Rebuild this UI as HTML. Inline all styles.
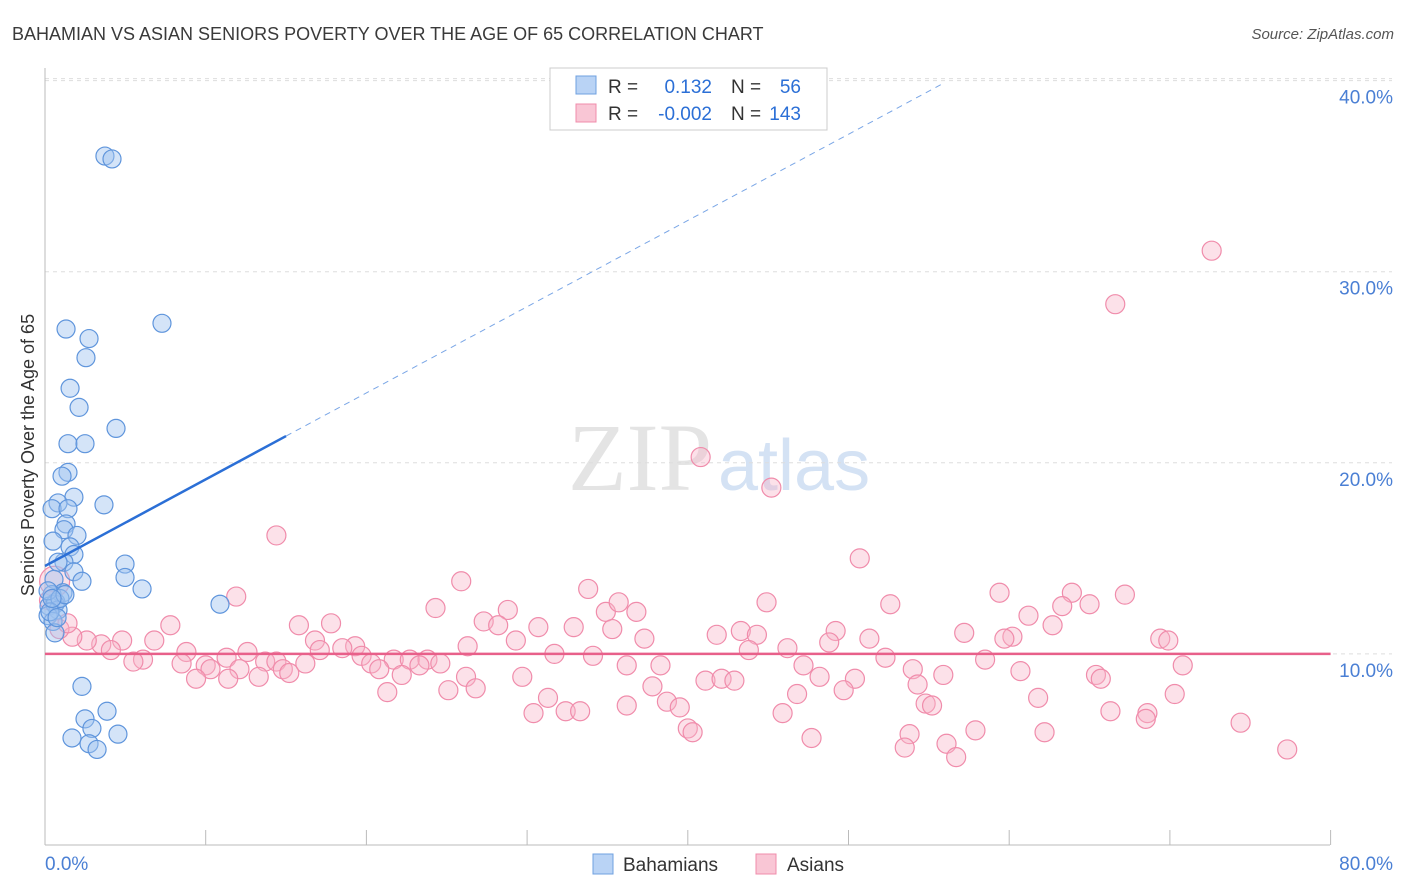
<!DOCTYPE html>
<html><head><meta charset="utf-8"><style>
body{margin:0;background:#fff;font-family:"Liberation Sans",sans-serif;}
svg{display:block}
</style></head><body>
<svg width="1406" height="892" id="chart">
<text x="12" y="40" font-size="18" fill="#3a3a3a">BAHAMIAN VS ASIAN SENIORS POVERTY OVER THE AGE OF 65 CORRELATION CHART</text>
<text x="1394" y="39" font-size="15" fill="#555" font-style="italic" text-anchor="end">Source: ZipAtlas.com</text>
<text x="712" y="490" font-size="96" fill="#e4e4e4" text-anchor="end" font-family="Liberation Serif">ZIP</text>
<text x="718" y="490" font-size="72" fill="#d4e2f4">atlas</text>
<text transform="translate(34,455) rotate(-90)" font-size="18" fill="#333" text-anchor="middle">Seniors Poverty Over the Age of 65</text>
<g id="grid"></g><g id="axes"></g><g id="pts"></g><g id="lines"></g>
<g>
<rect x="550" y="68" width="277" height="62" fill="#fff" stroke="#ccc"/>
<rect x="576" y="76" width="20" height="18" fill="#b9d3f5" stroke="#6fa0e0"/>
<rect x="576" y="104" width="20" height="18" fill="#f9c6d5" stroke="#f08cab"/>
<text x="608" y="93" font-size="19" fill="#333">R = </text><text x="712" y="93" font-size="19" fill="#2b6fd6" text-anchor="end">0.132</text>
<text x="731" y="93" font-size="19" fill="#333">N = </text><text x="801" y="93" font-size="19" fill="#2b6fd6" text-anchor="end">56</text>
<text x="608" y="120" font-size="19" fill="#333">R = </text><text x="712" y="120" font-size="19" fill="#2b6fd6" text-anchor="end">-0.002</text>
<text x="731" y="120" font-size="19" fill="#333">N = </text><text x="801" y="120" font-size="19" fill="#2b6fd6" text-anchor="end">143</text>
</g>
<g>
<rect x="593" y="854" width="20" height="20" fill="#b9d3f5" stroke="#6fa0e0"/>
<text x="623" y="871" font-size="19" fill="#333">Bahamians</text>
<rect x="756" y="854" width="20" height="20" fill="#f9c6d5" stroke="#f08cab"/>
<text x="787" y="871" font-size="19" fill="#333">Asians</text>
</g>
</svg>
<script>
const yTicks=[10,20,30,40];
const yTickLabels=["10.0%","20.0%","30.0%","40.0%"];
const xTicks=[0,10,20,30,40,50,60,70,80];
const bahX=[3.73,4.17,7.28,1.31,2.74,2.55,1.56,2.12,4.42,1.43,2.49,1.43,1.06,1.80,0.81,3.67,0.44,1.43,1.31,1.18,1.99,0.50,1.56,1.80,1.18,0.81,1.80,2.30,4.98,4.98,6.04,0.56,1.12,0.44,0.68,0.25,0.62,0.81,0.19,0.50,0.62,10.89,2.30,2.49,3.86,2.92,1.68,2.74,3.24,4.54,0.19,0.93,0.31,1.24,0.44,0.75];
const bahY=[36.05,35.9,27.3,27.0,26.5,25.5,23.9,22.9,21.8,21.0,21.0,19.5,19.3,18.2,17.9,17.8,17.6,17.6,16.8,16.5,16.2,15.9,15.6,15.2,14.8,14.8,14.3,13.8,14.7,14.0,13.4,13.9,13.2,13.1,12.7,12.5,12.6,12.3,12.0,11.7,11.1,12.6,8.3,6.6,7.0,6.1,5.6,5.3,5.0,5.8,13.3,12.9,12.2,13.1,12.9,11.9];
const asiX=[72.6,66.6,40.8,45.2,14.4,50.7,25.9,33.8,11.9,44.9,52.6,59.4,63.9,67.2,65.0,63.3,24.3,28.8,34.9,36.8,35.7,61.2,7.8,15.8,17.8,27.3,28.2,30.7,32.9,35.3,62.7,49.2,57.2,43.3,41.8,44.3,60.2,59.7,69.4,69.9,37.3,51.3,48.8,29.3,26.3,16.8,19.3,18.5,17.1,4.8,6.8,8.8,3.5,4.1,2.6,1.7,0.9,1.4,0.6,0.25,12.6,13.7,14.4,19.7,20.3,21.7,22.7,23.8,24.6,31.7,34.1,43.8,46.2,58.5,52.3,70.8,47.2,38.3,11.3,10.0,8.5,6.1,5.5,10.3,12.1,14.8,15.2,16.2,20.8,22.2,23.3,29.7,36.2,48.2,50.4,54.0,55.9,60.7,65.4,65.7,9.4,11.4,13.3,26.2,25.1,26.8,21.3,31.3,41.1,42.1,42.9,37.8,46.8,49.7,54.3,70.3,38.7,39.5,36.2,61.8,30.4,32.4,33.3,45.9,54.8,55.2,66.3,68.6,68.5,74.4,40.0,40.3,47.7,53.8,57.9,62.2,53.5,56.1,56.7,77.3];
const asiY=[31.1,28.3,20.3,18.7,16.2,15.0,13.8,13.4,13.0,12.7,12.6,13.2,13.2,13.1,12.6,12.5,12.4,12.3,12.2,12.2,12.7,12.0,11.5,11.5,11.6,11.7,11.5,11.4,11.4,11.3,11.5,11.2,11.1,11.2,11.0,11.0,10.9,10.8,10.8,10.7,10.8,10.8,10.6,10.7,10.4,10.7,10.4,10.3,10.2,10.7,10.7,10.1,10.5,10.2,10.7,10.9,11.3,11.6,13.8,12.8,10.1,9.6,9.6,9.9,9.5,9.7,9.7,9.7,9.5,10.0,9.9,10.2,10.3,9.7,9.8,9.4,9.4,9.4,9.8,9.4,9.5,9.7,9.6,9.2,9.2,9.2,9.0,9.5,9.2,8.9,9.4,8.8,9.4,8.8,8.7,9.2,8.9,9.1,8.9,8.7,8.7,8.7,8.8,8.8,8.1,8.2,8.0,7.7,8.6,8.7,8.6,8.3,7.9,8.1,8.4,7.9,7.5,7.2,7.3,7.7,6.9,7.0,7.0,6.9,7.4,7.3,7.0,6.9,6.6,6.4,6.1,5.9,5.6,5.8,6.0,5.9,5.1,5.3,4.6,5.0];
const bahTrend=[[0,14.6],[15,21.4],[56,39.9]];
const asiTrend=[[0,10.0],[80,10.0]];
const NS="http://www.w3.org/2000/svg";
const sx=v=>45+v*16.07, sy=v=>845-v*19.11;
function mk(tag,attrs,parent){const e=document.createElementNS(NS,tag);for(const k in attrs)e.setAttribute(k,attrs[k]);document.getElementById(parent).appendChild(e);return e;}
yTicks.forEach((t,i)=>{
 const g=mk('line',{x1:45,x2:1392,y1:sy(t),y2:sy(t),stroke:'#ddd','stroke-dasharray':'4,4'},'grid');
 
 
 const l=mk('text',{x:1393,y:sy(t)+23,'font-size':19,fill:'#4a7fd4','text-anchor':'end'},'grid');
 l.textContent=yTickLabels[i];
 
 
});
const topLine=mk('line',{x1:45,x2:1392,y1:sy(40)-2,y2:sy(40)-2,stroke:'#ddd','stroke-dasharray':'4,4'},'grid');


const ya=mk('line',{x1:45,x2:45,y1:68,y2:845,stroke:'#bbb'},'axes');


const xa=mk('line',{x1:45,x2:1330,y1:845,y2:845,stroke:'#bbb'},'axes');


xTicks.forEach(t=>{const k=mk('line',{x1:sx(t),x2:sx(t),y1:830,y2:845,stroke:'#bbb'},'axes');
 
 });
const x0=mk('text',{x:45,y:870,'font-size':19,fill:'#4a7fd4'},'axes');x0.textContent='0.0%';


const x1=mk('text',{x:1393,y:870,'font-size':19,fill:'#4a7fd4','text-anchor':'end'},'axes');x1.textContent='80.0%';


asiX.forEach((v,i)=>{const c=mk('circle',{cx:sx(v),cy:sy(asiY[i]),r:(v<1&&asiY[i]>13)?15:9.5,fill:'rgba(248,180,200,0.4)',stroke:'#f08cab','stroke-width':1.2},'pts');
 
 });
bahX.forEach((v,i)=>{const c=mk('circle',{cx:sx(v),cy:sy(bahY[i]),r:9,fill:'rgba(160,196,240,0.45)',stroke:'#5f95dc','stroke-width':1.2},'pts');
 
 });
const bl=mk('line',{x1:sx(bahTrend[0][0]),y1:sy(bahTrend[0][1]),x2:sx(bahTrend[1][0]),y2:sy(bahTrend[1][1]),stroke:'#2b6fd6','stroke-width':2.5},'lines');


const bd=mk('line',{x1:sx(bahTrend[1][0]),y1:sy(bahTrend[1][1]),x2:sx(bahTrend[2][0]),y2:sy(bahTrend[2][1]),stroke:'#7aa6e6','stroke-width':1,'stroke-dasharray':'6,5'},'lines');


const al=mk('line',{x1:sx(asiTrend[0][0]),y1:sy(asiTrend[0][1]),x2:sx(asiTrend[1][0]),y2:sy(asiTrend[1][1]),stroke:'#e8608a','stroke-width':2.5},'lines');


</script>
</body></html>
